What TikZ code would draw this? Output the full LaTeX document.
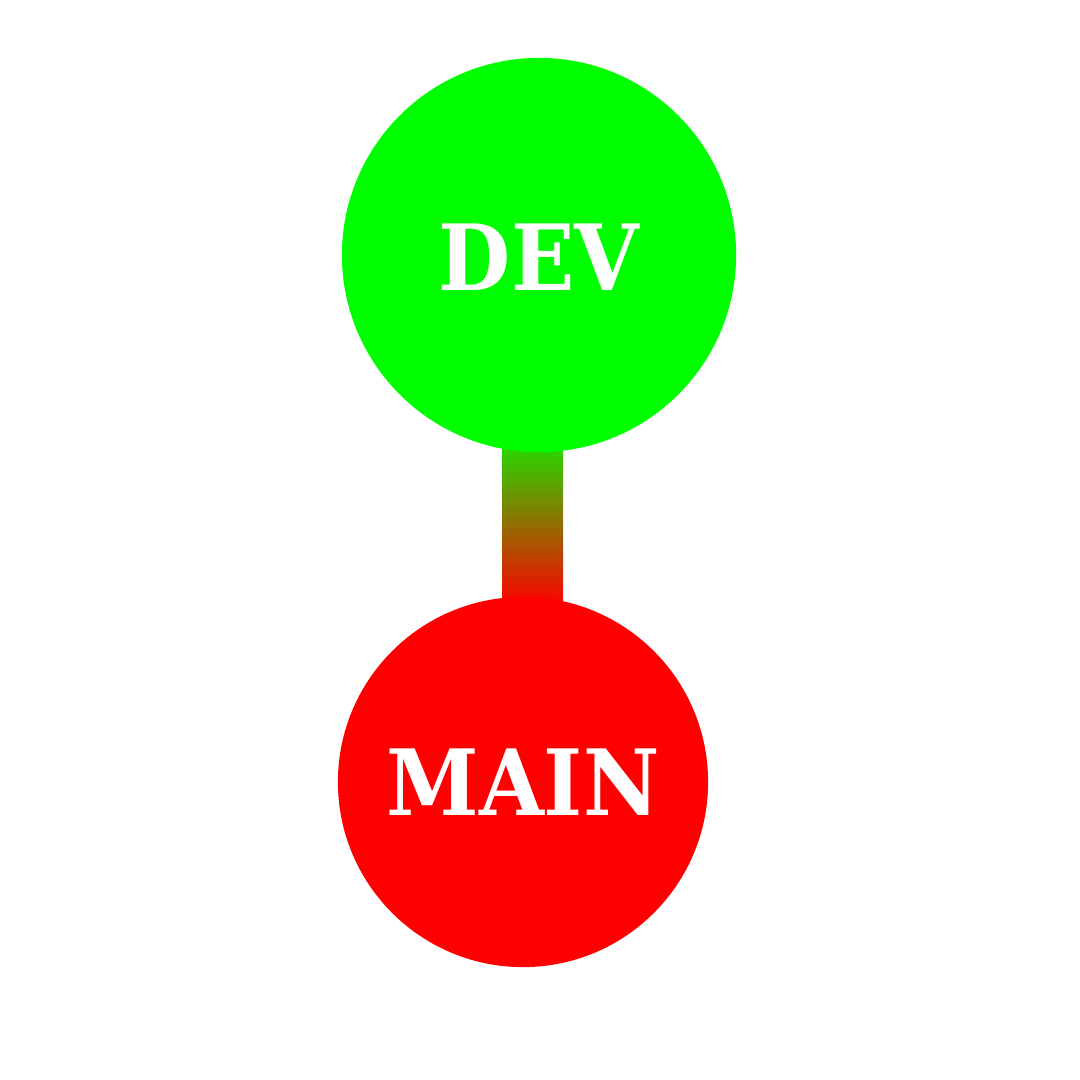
\documentclass[tikz,border=0pt]{standalone}
\usepackage{fontspec}
\setmainfont{DejaVu Serif}
\begin{document}
\begin{tikzpicture}[x=0.01cm,y=-0.01cm,
  branch/.style={circle,inner sep=0pt,text=white,font=\bfseries\fontsize{26}{30}\selectfont}]
\useasboundingbox[fill=white] (0,0) rectangle (1080,1080);
\definecolor{devgreen}{RGB}{0,255,0}
\definecolor{mainred}{RGB}{255,0,0}
\shade[top color=devgreen!85!mainred, bottom color=mainred] (502,445) rectangle (563,605);
\node[branch,fill=mainred,minimum size=3.70cm] (main) at (523,782) {\scalebox{0.915}[1.0]{MAIN}};
\node[branch,fill=devgreen,minimum size=3.94cm] (dev) at (539,255) {\raisebox{-0.02cm}[\height][\depth]{\scalebox{0.91}[1.0]{DEV}}};
\end{tikzpicture}
\end{document}
